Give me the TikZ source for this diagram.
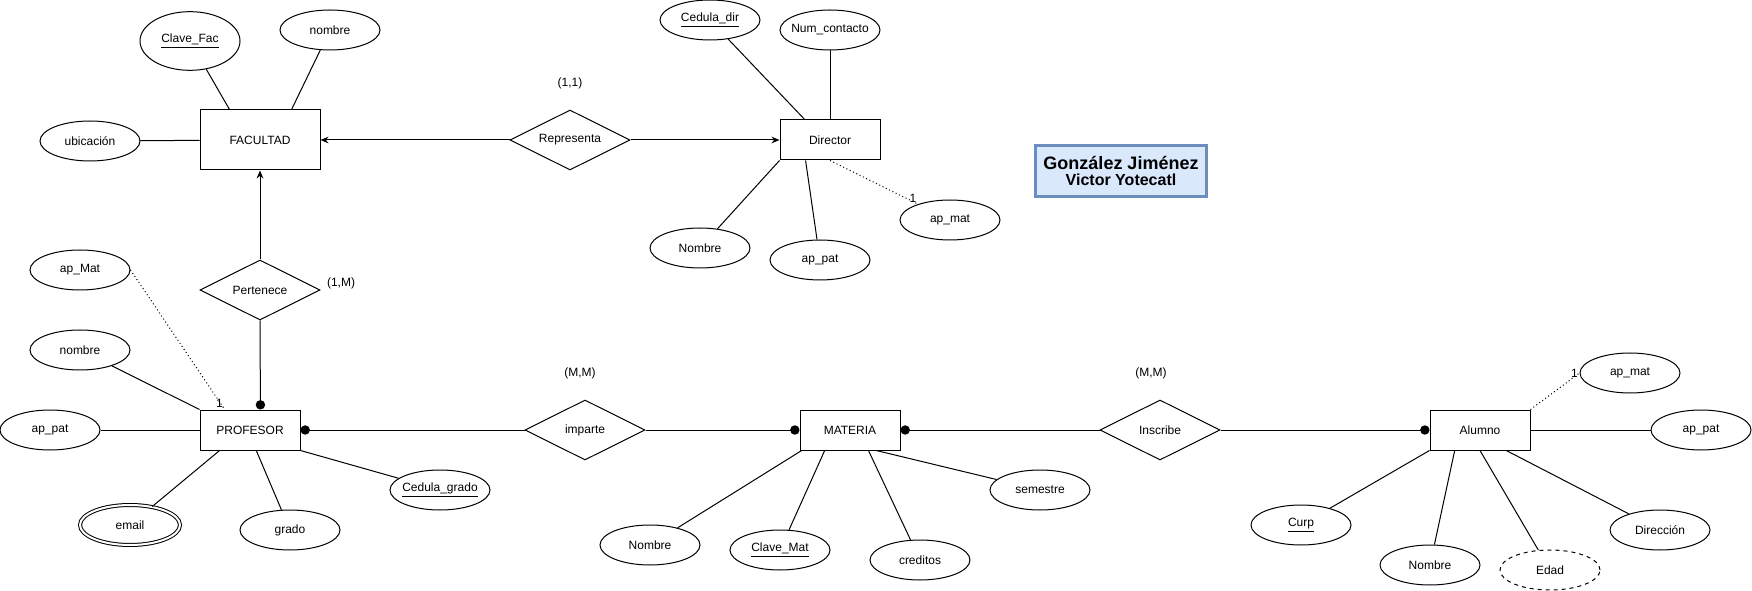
\documentclass[tikz,border=0pt]{standalone}
\usepackage{fontspec}
\setmainfont{Liberation Sans}
\usetikzlibrary{shapes.geometric, arrows.meta}

\definecolor{fondoazul}{HTML}{DAE8FC}
\definecolor{bordeazul}{HTML}{6C8EBF}

\begin{document}
\begin{tikzpicture}[
  x=0.75pt, y=-0.75pt, line width=0.75pt,
  font=\fontsize{9}{11}\selectfont,
  entity/.style={draw, rectangle, minimum width=75pt, minimum height=30pt},
  attr/.style={draw, ellipse, minimum width=75pt, minimum height=30pt, inner xsep=-4pt, inner ysep=0pt},
  relation/.style={draw, diamond, aspect=2, minimum width=90pt, minimum height=45pt, inner sep=1pt},
  rel/.style={font=\fontsize{9}{11}\selectfont, inner sep=1pt}
]
\useasboundingbox (0,0) rectangle (1752,591);

\node[entity, minimum width=90pt, minimum height=45pt] (facultad) at (260,140) {FACULTAD};
\node[entity] (director) at (830,140) {Director};
\node[entity] (profesor) at (250,430) {PROFESOR};
\node[entity] (materia) at (850,430) {MATERIA};
\node[entity] (alumno) at (1480,430) {Alumno};

\node[relation] (representa) at (570,140) {Representa};
\node[relation] (pertenece) at (260,290) {Pertenece};
\node[relation] (imparte) at (585,430) {imparte};
\node[relation] (inscribe) at (1160,430) {Inscribe};

% Atributos de FACULTAD
\node[attr, minimum height=44pt] (clavefac) at (190,41) {\underline{Clave\_Fac}};
\node[attr] (nombrefac) at (330,30) {nombre};
\node[attr] (ubicacion) at (90,141) {ubicación};

% Atributos de Director
\node[attr] (ceduladir) at (710,20) {\underline{Cedula\_dir}};
\node[attr] (numcontacto) at (830,30) {Num\_contacto};
\node[attr] (nombredir) at (700,248) {Nombre};
\node[attr] (appatdir) at (820,260) {ap\_pat};
\node[attr] (apmatdir) at (950,220) {ap\_mat};

% Atributos de PROFESOR
\node[attr] (apmatprof) at (80,270) {ap\_Mat};
\node[attr] (nombreprof) at (80,350) {nombre};
\node[attr] (appatprof) at (50,430) {ap\_pat};
\node[attr, double, double distance=1.5pt] (email) at (130,525) {email};
\node[attr] (grado) at (290,530) {grado};
\node[attr] (cedulagrado) at (440,490) {\underline{Cedula\_grado}};

% Atributos de MATERIA
\node[attr] (nombremat) at (650,545) {Nombre};
\node[attr] (clavemat) at (780,550) {\underline{Clave\_Mat}};
\node[attr] (creditos) at (920,560) {creditos};
\node[attr] (semestre) at (1040,490) {semestre};

% Atributos de Alumno
\node[attr] (apmatalu) at (1630,373) {ap\_mat};
\node[attr] (appatalu) at (1701,430) {ap\_pat};
\node[attr] (curp) at (1301,525) {\underline{Curp}};
\node[attr] (nombrealu) at (1430,565) {Nombre};
\node[attr, dashed] (edad) at (1550,570) {Edad};
\node[attr] (direccion) at (1660,530) {Dirección};

% Cardinalidades
\node[rel] (card11) at (570,83) {(1,1)};
\node[rel] (card1m) at (341,283) {(1,M)};
\node[rel] (cardmm1) at (580,373) {(M,M)};
\node[rel] (cardmm2) at (1151,373) {(M,M)};

\node[draw=bordeazul, fill=fondoazul, line width=2pt, minimum width=128pt, minimum height=38pt, align=center, font=\bfseries] (titulo) at (1121,171) {%
{\fontsize{13.5}{15}\selectfont González Jiménez}\\
{\fontsize{12}{15}\selectfont Victor Yotecatl}};

% Relaciones
\draw[-{Stealth[length=6pt,width=5pt]}] (representa) -- (facultad);
\draw[-{Stealth[length=6pt,width=5pt]}] (representa) -- (director);
\draw[-{Stealth[length=6pt,width=5pt]}] (pertenece) -- (facultad);
\draw[-{Circle[length=7pt]}] (pertenece.south) -- (profesor.63);
\draw[{Circle[length=7pt]}-] (profesor) -- (imparte);
\draw[-{Circle[length=7pt]}] (imparte) -- (materia);
\draw[{Circle[length=7pt]}-] (materia) -- (inscribe);
\draw[-{Circle[length=7pt]}] (inscribe) -- (alumno);

% Atributos -- entidades
\draw (clavefac) -- (facultad.135);
\draw (nombrefac) -- (facultad.44);
\draw (ubicacion) -- (facultad);

\draw (ceduladir) -- (director.141);
\draw (numcontacto) -- (director.north);
\draw (nombredir) -- (director.south west);
\draw (appatdir) -- (director.220);
\draw[dotted] (director.south) -- (apmatdir) node[rel, at end, above left] (unodir) {1};

\draw[dotted] (apmatprof.east) -- (profesor.141) node[rel, at end, above left] (unoprof) {1};
\draw (nombreprof) -- (profesor.north west);
\draw (appatprof) -- (profesor);
\draw (email) -- (profesor.214);
\draw (grado) -- (profesor.287);
\draw (cedulagrado) -- (profesor.south east);

\draw (nombremat) -- (materia.203);
\draw (clavemat) -- (materia.219);
\draw (creditos) -- (materia.312);
\draw (semestre) -- (materia.322);

\draw[dotted] (alumno.north east) -- (apmatalu.west) node[rel, at end, left] (unoalu) {1};
\draw (appatalu) -- (alumno);
\draw (curp) -- (alumno.south west);
\draw (nombrealu) -- (alumno.219);
\draw (edad) -- (alumno.south);
\draw (direccion) -- (alumno.322);

\end{tikzpicture}
\end{document}
